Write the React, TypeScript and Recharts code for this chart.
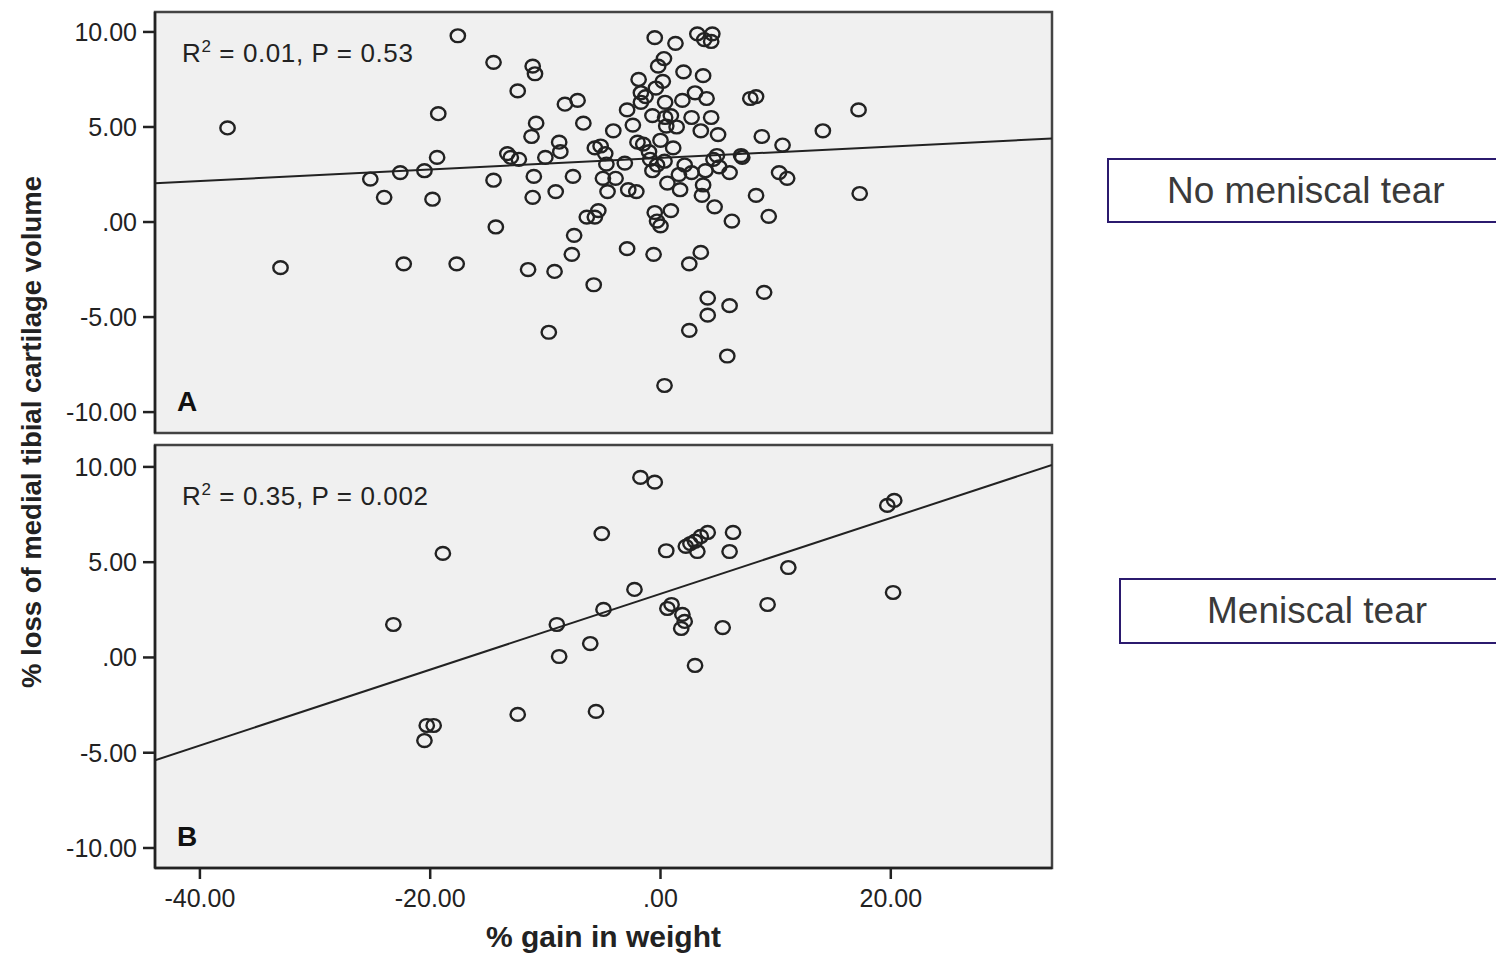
import {
  ReferenceArea,
  ReferenceLine,
  Scatter,
  ScatterChart,
  XAxis,
  YAxis,
} from 'recharts'

// % gain in weight / % loss of medial tibial cartilage volume, no meniscal tear
const noTearGain = [
  -37.6, -33.0, -25.2, -24.0, -22.6, -22.3, -20.5, -19.8, -19.4, -19.3, -17.7, -17.6,
  -14.5, -14.5, -14.3, -13.3, -13.0, -12.4, -12.3, -11.5, -11.2, -11.1, -10.9, -11.0,
  -10.8, -11.1, -10.0, -9.7, -9.2, -9.1, -8.8, -8.7, -8.3, -7.7, -7.5, -7.6, -7.2,
  -6.7, -6.4, -5.8, -5.7, -5.7, -5.4, -5.2, -5.0, -4.8, -4.7, -4.6, -4.1, -3.9, -3.1,
  -2.9, -2.9, -2.8, -2.4, -2.1, -2.0, -1.9, -1.7, -1.7, -1.5, -1.3, -1.0, -0.6, -0.5,
  -0.7, -0.9, -0.7, -0.4, -0.5, -0.3, -0.3, -0.2, 0.0, 0.0, 0.2, 0.3, 0.35, 0.35, 0.4,
  0.4, 0.5, 0.6, 0.9, 0.9, 1.1, 1.3, 1.4, 1.6, 1.7, 2.0, 1.9, 2.1, 2.5, 2.5, 2.7, 2.7,
  3.0, 3.2, 3.5, 3.5, 3.6, 3.7, 3.7, 3.8, 4.0, 3.9, 4.1, 4.1, 4.4, 4.5, 4.4, 4.6, 4.7,
  4.9, 5.0, 5.1, 5.8, 6.0, 6.0, 6.2, 7.0, 7.1, 7.8, 8.3, 8.3, 8.8, 9.0, 9.4, 10.3,
  10.6, 11.0, 14.1, 17.2, 17.3,
]
const noTearLoss = [
  4.95, -2.4, 2.26, 1.3, 2.6, -2.2, 2.7, 1.2, 3.4, 5.7, -2.2, 9.8,
  8.4, 2.2, -0.26, 3.6, 3.4, 6.9, 3.3, -2.5, 4.5, 8.2, 7.8, 2.4,
  5.2, 1.3, 3.4, -5.8, -2.6, 1.6, 4.2, 3.7, 6.2, -1.7, -0.7, 2.4, 6.4,
  5.2, 0.26, -3.3, 3.9, 0.26, 0.6, 4.0, 2.3, 3.6, 3.05, 1.6, 4.8, 2.3, 3.1,
  -1.4, 5.9, 1.7, 5.1, 1.6, 4.2, 7.5, 6.8, 6.3, 4.1, 6.6, 3.7, -1.7, 9.7,
  5.6, 3.3, 2.7, 7.05, 0.5, 0.05, 3.0, 8.2, -0.2, 4.3, 7.4, 8.6, -8.6, 3.2, 6.3,
  5.5, 5.05, 2.05, 0.6, 5.6, 3.9, 9.4, 5.0, 2.5, 1.7, 7.9, 6.4, 3.0, -2.2, -5.7, 5.5, 2.6,
  6.8, 9.9, -1.6, 4.8, 1.4, 7.7, 1.95, 9.6, 6.5, 2.7, -4.0, -4.9, 9.5, 9.9, 5.5, 3.3, 0.8,
  3.5, 4.6, 2.9, -7.05, 2.6, -4.4, 0.05, 3.5, 3.4, 6.5, 6.6, 1.4, 4.5, -3.7, 0.3, 2.6,
  4.05, 2.3, 4.8, 5.9, 1.5,
]

// meniscal tear
const tearGain = [
  -23.2, -18.9, -20.5, -20.3, -19.7, -12.4, -9.0, -8.8, -6.1, -5.6, -5.1, -4.95,
  -2.26, -1.74, -0.5, 0.5, 0.6, 0.96, 1.9, 2.1, 1.8, 2.2, 2.6, 3.0, 3.2, 3.5, 4.1,
  3.0, 5.4, 6.0, 6.3, 11.1, 9.3, 19.7, 20.3, 20.2,
]
const tearLoss = [
  1.73, 5.46, -4.36, -3.57, -3.57, -2.99, 1.73, 0.05, 0.73, -2.83, 6.5, 2.52,
  3.57, 9.45, 9.2, 5.6, 2.57, 2.78, 2.26, 1.89, 1.52, 5.83, 5.98, 6.1, 5.56, 6.35, 6.56,
  -0.42, 1.57, 5.56, 6.56, 4.72, 2.78, 7.98, 8.24, 3.41,
]

// fitted lines: loss = intercept + slope * gain
const fitNoTear = { intercept: 3.37, slope: 0.0302 }
const fitTear = { intercept: 3.34, slope: 0.199 }

const xDomain: [number, number] = [-43.9, 34.0]
const xTicks = [-40, -20, 0, 20]
const yTicks = [-10, -5, 0, 5, 10]

const FONT = '"Liberation Sans", Arial, sans-serif'
const INK = '#222'

function fmt(v: number): string {
  if (v === 0) return '.00'
  return v.toFixed(2)
}

function toPoints(xs: number[], ys: number[]) {
  return xs.map((x, i) => ({ x, y: ys[i] }))
}

function Ring(props: any) {
  const { cx, cy } = props
  if (cx == null || cy == null) return null
  return <ellipse cx={cx} cy={cy} rx={7.2} ry={6.4} fill="none" stroke={INK} strokeWidth={2.4} />
}

function statLabel(r2: string, p: string, dy: number) {
  return (props: any) => {
    const vb = props.viewBox || {}
    const x = (vb.x ?? 0) + 27
    const y = (vb.y ?? 0) + dy
    return (
      <text x={x} y={y} fill={INK} fontSize={26} fontFamily={FONT} letterSpacing={0.6}>
        <tspan>R</tspan>
        <tspan fontSize={17} dy={-10}>2</tspan>
        <tspan dy={10}>{` = ${r2}, P = ${p}`}</tspan>
      </text>
    )
  }
}

interface PanelProps {
  data: { x: number; y: number }[]
  fit: { intercept: number; slope: number }
  yDomain: [number, number]
  r2: string
  p: string
  statDy: number
  letter: string
  height: number
  marginTop: number
  marginBottom: number
  showX: boolean
}

function Panel({ data, fit, yDomain, r2, p, statDy, letter, height, marginTop, marginBottom, showX }: PanelProps) {
  const [x0, x1] = xDomain
  const segment = [
    { x: x0, y: fit.intercept + fit.slope * x0 },
    { x: x1, y: fit.intercept + fit.slope * x1 },
  ]
  return (
    <ScatterChart
      width={1062}
      height={height}
      margin={{ top: marginTop, right: 10, bottom: marginBottom, left: 0 }}
    >
      <XAxis
        type="number"
        dataKey="x"
        domain={xDomain}
        ticks={xTicks}
        allowDataOverflow
        hide={!showX}
        height={showX ? 86 : 0}
        tickFormatter={fmt}
        tick={{ fill: INK, fontSize: 25, fontFamily: FONT }}
        tickSize={11}
        tickMargin={10}
        axisLine={{ stroke: INK, strokeWidth: 2.5 }}
        tickLine={{ stroke: INK, strokeWidth: 2.5 }}
        label={{
          value: '% gain in weight',
          position: 'insideBottom',
          offset: 7,
          style: { fill: INK, fontSize: 30, fontWeight: 'bold', fontFamily: FONT },
        }}
      />
      <YAxis
        type="number"
        dataKey="y"
        domain={yDomain}
        ticks={yTicks}
        allowDataOverflow
        width={155}
        tickFormatter={fmt}
        tick={{ fill: INK, fontSize: 25, fontFamily: FONT }}
        tickSize={12}
        tickMargin={6}
        axisLine={{ stroke: INK, strokeWidth: 2.5 }}
        tickLine={{ stroke: INK, strokeWidth: 2.5 }}
      />
      <ReferenceArea
        x1={x0}
        x2={x1}
        y1={yDomain[0]}
        y2={yDomain[1]}
        fill="#f0f0f0"
        fillOpacity={1}
        stroke="#444"
        strokeWidth={2.5}
        ifOverflow="visible"
        label={statLabel(r2, p, statDy)}
      />
      <ReferenceArea
        x1={x0}
        x2={x1}
        y1={yDomain[0]}
        y2={yDomain[1]}
        fill="none"
        stroke="none"
        ifOverflow="visible"
        label={{
          value: letter,
          position: 'insideBottomLeft',
          offset: 22,
          style: { fill: '#111', fontSize: 28, fontWeight: 'bold', fontFamily: FONT },
        }}
      />
      <ReferenceLine segment={segment} stroke={INK} strokeWidth={2} ifOverflow="hidden" />
      <Scatter data={data} shape={<Ring />} isAnimationActive={false} />
    </ScatterChart>
  )
}

const boxStyle = {
  position: 'absolute' as const,
  border: '2px solid #2b1a6e',
  borderRight: 'none',
  background: '#fff',
  color: '#3a3a3a',
  fontFamily: FONT,
  fontSize: 37,
  display: 'flex',
  alignItems: 'center',
  boxSizing: 'border-box' as const,
}

export default function App() {
  return (
    <div
      style={{
        position: 'absolute',
        left: 0,
        top: 0,
        width: 1496,
        height: 956,
        background: '#fff',
        overflow: 'hidden',
      }}
    >
      <div style={{ position: 'absolute', left: 0, top: 0 }}>
        <Panel
          data={toPoints(noTearGain, noTearLoss)}
          fit={fitNoTear}
          yDomain={[-11.1, 11.05]}
          r2="0.01"
          p="0.53"
          statDy={50}
          letter="A"
          height={440}
          marginTop={12}
          marginBottom={7}
          showX={false}
        />
      </div>
      <div style={{ position: 'absolute', left: 0, top: 440 }}>
        <Panel
          data={toPoints(tearGain, tearLoss)}
          fit={fitTear}
          yDomain={[-11.05, 11.15]}
          r2="0.35"
          p="0.002"
          statDy={60}
          letter="B"
          height={516}
          marginTop={5}
          marginBottom={2}
          showX={true}
        />
      </div>
      <div
        style={{
          position: 'absolute',
          left: 32,
          top: 432,
          transform: 'translate(-50%, -50%) rotate(-90deg)',
          whiteSpace: 'nowrap',
          fontFamily: FONT,
          fontWeight: 'bold',
          fontSize: 27.5,
          color: INK,
        }}
      >
        % loss of medial tibial cartilage volume
      </div>
      <div style={{ ...boxStyle, left: 1107, top: 158, width: 400, height: 65 }}>
        <span style={{ marginLeft: 58 }}>No meniscal tear</span>
      </div>
      <div style={{ ...boxStyle, left: 1119, top: 578, width: 390, height: 66 }}>
        <span style={{ marginLeft: 86 }}>Meniscal tear</span>
      </div>
    </div>
  )
}
